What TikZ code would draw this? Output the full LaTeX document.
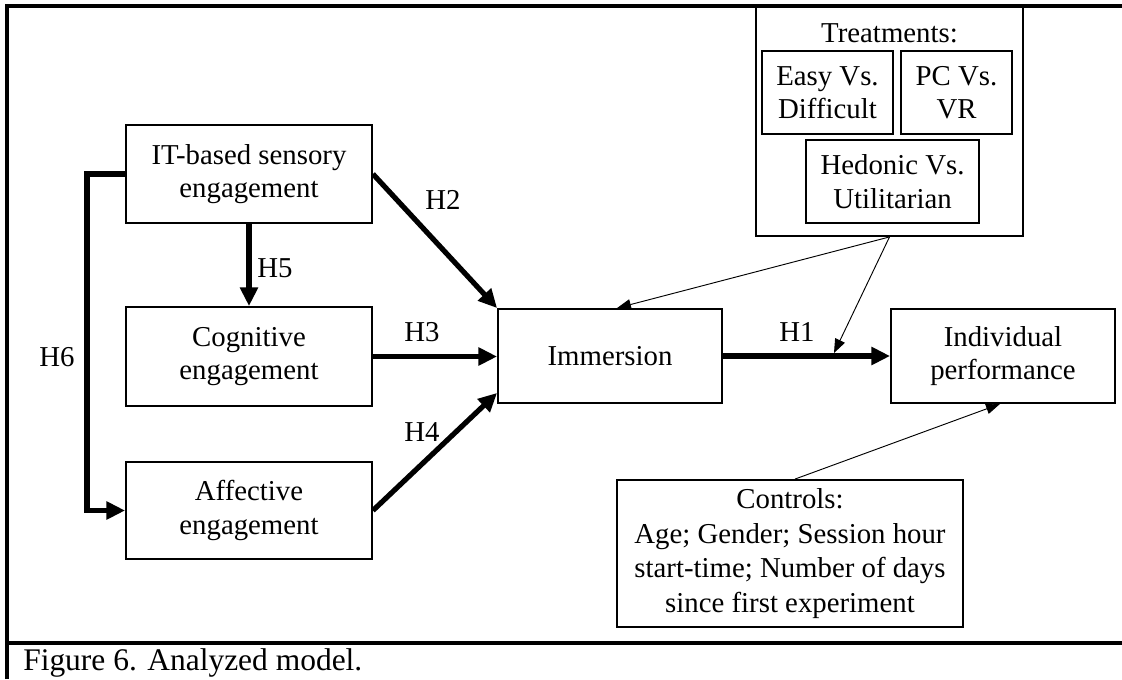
\documentclass[tikz,border=0pt]{standalone}
\usepackage{fontspec}
\setmainfont{Liberation Serif}
\usetikzlibrary{arrows.meta,calc}
\begin{document}
\begin{tikzpicture}[x=0.75pt,y=-0.75pt,
  txt/.style={font=\fontsize{21.6pt}{25pt}\selectfont},
  box/.style={draw,line width=1.4pt,align=center,inner sep=0pt,txt},
  lbl/.style={inner sep=0pt,txt},
  strongarrow/.style={line width=3.9pt,-{Triangle[length=14pt,width=13pt]}},
  thinarrow/.style={line width=0.7pt,-{Triangle[length=10.5pt,width=8pt]}},
  frameline/.style={line width=2.5pt}]
\useasboundingbox (0,0) rectangle (1122,679);
% outer frame
\draw[frameline] (7,679) -- (7,6) -- (1122,6);
\draw[frameline] (7,643) -- (1122,643);
\node[anchor=west,inner sep=0pt,font=\fontsize{23.6pt}{27pt}\selectfont] (cap) at (23,663) {Figure 6. Analyzed model.};
% main boxes
\node[box,minimum width=184.5pt,minimum height=73.5pt] (IT) at (249,174) {IT-based sensory\\engagement};
\node[box,minimum width=184.5pt,minimum height=74.25pt] (Cog) at (249,356.5) {Cognitive\\engagement};
\node[box,minimum width=184.5pt,minimum height=72.75pt] (Aff) at (249,510.5) {Affective\\engagement};
\node[box,minimum width=168pt,minimum height=70.5pt] (Imm) at (610,356) {Immersion};
\node[box,minimum width=168pt,minimum height=70.5pt] (Ind) at (1003,356) {Individual\\performance};
\node[box,minimum width=259.5pt,minimum height=110.25pt,font=\fontsize{21.6pt}{25.8pt}\selectfont] (Ctrl) at (790,553.5) {Controls:\\Age; Gender; Session hour\\start-time; Number of days\\since first experiment};
% treatments
\node[box,minimum width=200.25pt,minimum height=171.75pt] (Treat) at (889.5,121.5) {};
\node[lbl] (TreatT) at (889.5,33) {Treatments:};
\node[box,minimum width=98.25pt,minimum height=62.25pt] (Easy) at (827.5,92.5) {Easy Vs.\\Difficult};
\node[box,minimum width=83.25pt,minimum height=62.25pt] (PC) at (956.5,92.5) {PC Vs.\\VR};
\node[box,minimum width=129.75pt,minimum height=62.25pt] (Hed) at (892.5,181.5) {Hedonic Vs.\\Utilitarian};
% thick arrows
\draw[strongarrow] (IT.south) -- (Cog.north);
\draw[strongarrow,line join=miter] (IT.west) -- (87,174) |- (Aff.west);
\draw[strongarrow] (IT.east) -- (Imm.north west);
\draw[strongarrow] (Cog.east) -- (Cog.east -| Imm.west);
\draw[strongarrow] (Aff.east) -- ($(Imm.south west)+(0,-11)$);
\draw[strongarrow] (Imm.east) -- (Ind.west);
% thin arrows
\coordinate (immtop) at ($(Imm.north)+(7,0)$);
\coordinate (h1pt) at (834,353);
\draw[thinarrow] (Treat.south) -- (immtop);
\draw[thinarrow] (Treat.south) -- (h1pt);
\draw[thinarrow] ($(Ctrl.north)+(5,0)$) -- ($(Ind.south)+(-3,0)$);
% labels
\node[lbl] (lH2) at (443,200) {H2};
\node[lbl] (lH5) at (275,268) {H5};
\node[lbl] (lH3) at (422,332) {H3};
\node[lbl] (lH4) at (422,432) {H4};
\node[lbl] (lH6) at (57,357) {H6};
\node[lbl] (lH1) at (797,332) {H1};
\end{tikzpicture}
\end{document}
